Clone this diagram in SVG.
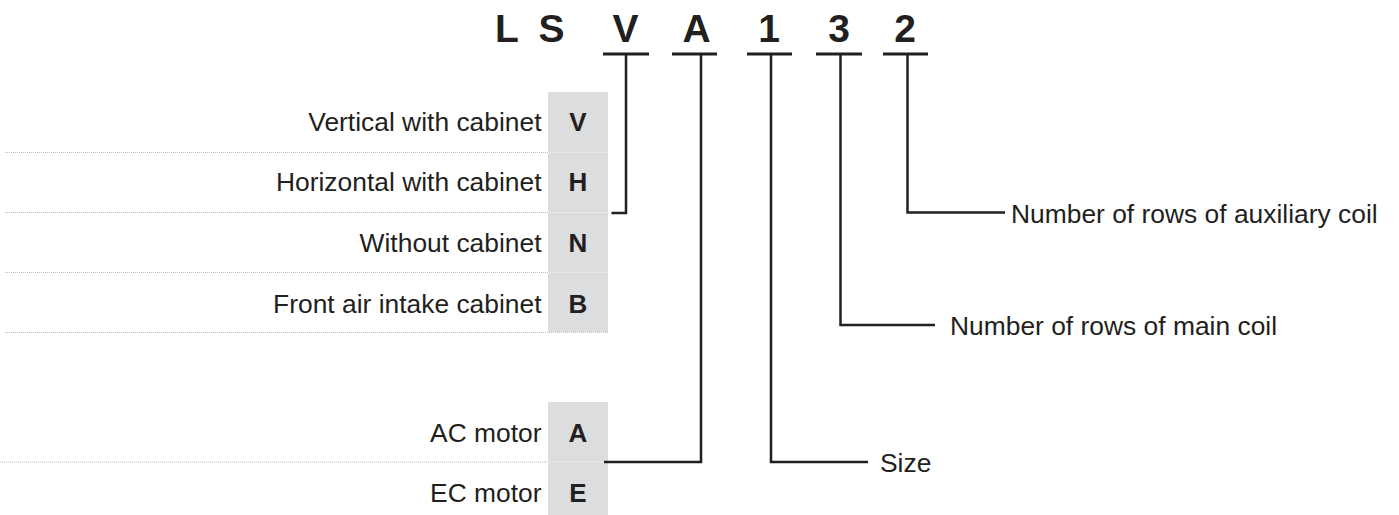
<svg xmlns="http://www.w3.org/2000/svg" width="1399" height="515" viewBox="0 0 1399 515">
  <style>
    .title { font-family: "Liberation Sans", Arial, sans-serif; font-weight: bold; font-size: 39px; fill: #231f20; }
    .lbl { font-family: "Liberation Sans", Arial, sans-serif; font-size: 26.4px; fill: #231f20; }
    .code { font-family: "Liberation Sans", Arial, sans-serif; font-weight: bold; font-size: 26px; fill: #231f20; text-anchor: middle; }
    .box { fill: #dcdddf; }
    .dot { stroke: #bdbdbd; stroke-width: 1; stroke-dasharray: 1 1; fill: none; }
    .dotw { stroke: #f4f4f4; stroke-width: 1; stroke-dasharray: 1 1; fill: none; }
    .ul { stroke: #231f20; stroke-width: 3; fill: none; }
    .conn { stroke: #231f20; stroke-width: 2.5; fill: none; stroke-linejoin: miter; stroke-linecap: butt; }
  </style>

  <g id="title">
    <text class="title" x="495" y="42">L</text>
    <text class="title" x="551.5" y="42" text-anchor="middle">S</text>
    <text class="title" x="625.5" y="42" text-anchor="middle">V</text>
    <text class="title" x="696.5" y="42" text-anchor="middle">A</text>
    <text class="title" x="769" y="42" text-anchor="middle">1</text>
    <text class="title" x="839" y="42" text-anchor="middle">3</text>
    <text class="title" x="905" y="42" text-anchor="middle">2</text>
    <line class="ul" x1="603" y1="54" x2="649" y2="54"/>
    <line class="ul" x1="672" y1="54" x2="717" y2="54"/>
    <line class="ul" x1="747" y1="54" x2="792" y2="54"/>
    <line class="ul" x1="816" y1="54" x2="862" y2="54"/>
    <line class="ul" x1="883" y1="54" x2="928" y2="54"/>
  </g>

  <g id="cabinet-options">
    <rect class="box" x="548" y="92" width="60" height="240"/>
    <line class="dot" x1="5" y1="152.5" x2="548" y2="152.5"/>
    <line class="dot" x1="5" y1="212.5" x2="548" y2="212.5"/>
    <line class="dot" x1="5" y1="272.5" x2="548" y2="272.5"/>
    <line class="dot" x1="5" y1="332.5" x2="608" y2="332.5"/>
    <line class="dotw" x1="548" y1="152.5" x2="608" y2="152.5"/>
    <line class="dotw" x1="548" y1="212.5" x2="608" y2="212.5"/>
    <line class="dotw" x1="548" y1="272.5" x2="608" y2="272.5"/>
    <g id="opt-V">
      <text class="lbl" x="541.5" y="131" text-anchor="end">Vertical with cabinet</text>
      <text class="code" x="578" y="131">V</text>
    </g>
    <g id="opt-H">
      <text class="lbl" x="541.5" y="191" text-anchor="end">Horizontal with cabinet</text>
      <text class="code" x="578" y="191">H</text>
    </g>
    <g id="opt-N">
      <text class="lbl" x="541.5" y="252" text-anchor="end">Without cabinet</text>
      <text class="code" x="578" y="252">N</text>
    </g>
    <g id="opt-B">
      <text class="lbl" x="541.5" y="312.5" text-anchor="end">Front air intake cabinet</text>
      <text class="code" x="578" y="312.5">B</text>
    </g>
  </g>

  <g id="motor-options">
    <rect class="box" x="548" y="402" width="60" height="113"/>
    <line class="dot" x1="0" y1="462" x2="548" y2="462"/>
    <line class="dotw" x1="548" y1="462" x2="604" y2="462"/>
    <g id="opt-A">
      <text class="lbl" x="541.5" y="442" text-anchor="end">AC motor</text>
      <text class="code" x="578" y="442">A</text>
    </g>
    <g id="opt-E">
      <text class="lbl" x="541.5" y="501.5" text-anchor="end">EC motor</text>
      <text class="code" x="578" y="501.5">E</text>
    </g>
  </g>

  <g id="label-size">
    <text class="lbl" x="880" y="472">Size</text>
  </g>
  <g id="label-main-coil">
    <text class="lbl" x="950" y="335">Number of rows of main coil</text>
  </g>
  <g id="label-aux-coil">
    <text class="lbl" x="1011" y="222.5">Number of rows of auxiliary coil</text>
  </g>

  <g id="connectors">
    <polyline class="conn" points="626,55 626,213 611.5,213"/>
    <polyline class="conn" points="701,55 701,462 604,462"/>
    <polyline class="conn" points="771,55 771,462 868,462"/>
    <polyline class="conn" points="840.5,55 840.5,325 935,325"/>
    <polyline class="conn" points="907.5,55 907.5,212.5 1005,212.5"/>
  </g>
</svg>
